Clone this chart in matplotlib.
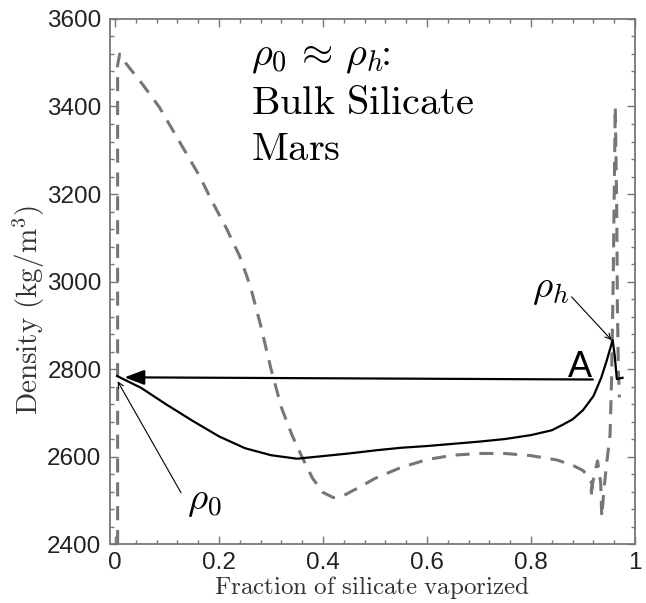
import matplotlib
matplotlib.use("Agg")
import matplotlib.pyplot as plt
from matplotlib.ticker import MultipleLocator

plt.rcParams["mathtext.fontset"] = "cm"

# density of the mixture vs vaporized fraction (solid) and the second branch (dashed)
frac_solid = [0.004, 0.05, 0.1, 0.15, 0.2, 0.25, 0.3, 0.35, 0.4, 0.45, 0.5,
              0.55, 0.6, 0.65, 0.7, 0.75, 0.8, 0.84, 0.86, 0.88, 0.9, 0.92,
              0.935, 0.945, 0.957, 0.961, 0.965, 0.976]
rho_solid = [2784, 2757, 2718, 2681, 2646, 2619, 2603, 2595, 2601, 2607, 2614,
             2620, 2624, 2629, 2634, 2640, 2649, 2660, 2672, 2685, 2706, 2738,
             2780, 2817, 2866, 2830, 2777, 2780]

frac_dashed = [0.005, 0.005, 0.009, 0.02, 0.054, 0.086, 0.111, 0.137, 0.163,
               0.188, 0.214, 0.24, 0.26, 0.28, 0.30, 0.32, 0.34, 0.36, 0.38,
               0.40, 0.42, 0.44, 0.47, 0.50, 0.55, 0.60, 0.65, 0.70, 0.75,
               0.80, 0.85, 0.88, 0.90, 0.912, 0.918, 0.916, 0.913, 0.922,
               0.928, 0.934, 0.936, 0.94, 0.945, 0.952, 0.955, 0.958, 0.960,
               0.962, 0.965, 0.966, 0.968, 0.970]
rho_dashed = [2400, 3495, 3520, 3500, 3449, 3397, 3346, 3293, 3240,
              3180, 3122, 3057, 2990, 2900, 2800, 2712, 2650, 2598, 2550,
              2518, 2506, 2511, 2530, 2550, 2575, 2593, 2603, 2607, 2607,
              2602, 2592, 2580, 2568, 2552, 2535, 2515, 2506, 2560,
              2590, 2540, 2462, 2520, 2580, 2650, 2780, 3000, 3200,
              3400, 3150, 2950, 2800, 2735]

# reference points
rho_0 = (0.005, 2772)
rho_h = (0.955, 2866)
arrow_start = (0.919, 2776)
arrow_end = (0.018, 2781)

xticks = [0, 0.2, 0.4, 0.6, 0.8, 1]
xtick_labels = ["0", "0.2", "0.4", "0.6", "0.8", "1"]
yticks = [2400, 2600, 2800, 3000, 3200, 3400, 3600]

fig = plt.figure(figsize=(6.46, 6.03), dpi=100)
ax = fig.add_axes([0.170, 0.0978, 0.813, 0.8707])

gray = "#767676"
ax.plot(frac_dashed, rho_dashed, color=gray, lw=2.2, dashes=(4.6, 3.2))
ax.plot(frac_solid, rho_solid, color="black", lw=1.6)

# horizontal arrow A
ax.annotate("", xy=arrow_end, xytext=arrow_start,
            arrowprops=dict(arrowstyle="-|>,head_length=0.8,head_width=0.3",
                            mutation_scale=15, lw=1.6, color="black",
                            shrinkA=0, shrinkB=0))
ax.text(0.871, 2782, "A", fontsize=26, family="Liberation Sans",
        ha="left", va="baseline")

# labels for the two densities
ax.annotate("", xy=rho_0, xytext=(0.127, 2517),
            arrowprops=dict(arrowstyle="->", lw=0.8, color="black",
                            shrinkA=0, shrinkB=0))
ax.text(0.171, 2500, r"$\rho_0$", fontsize=28, ha="center", va="center")
ax.annotate("", xy=rho_h, xytext=(0.878, 2965),
            arrowprops=dict(arrowstyle="->", lw=0.8, color="black",
                            shrinkA=0, shrinkB=0))
ax.text(0.838, 2985, r"$\rho_h$", fontsize=28, ha="center", va="center")

# title block
ax.text(0.262, 3515, r"$\rho_0\,\approx\,\rho_h\!\!:$", fontsize=29,
        va="center")
ax.text(0.262, 3409, r"$\mathrm{Bulk\ Silicate}$", fontsize=29, va="center")
ax.text(0.262, 3302, r"$\mathrm{Mars}$", fontsize=29, va="center")

ax.set_xlim(-0.01, 1.0)
ax.set_ylim(2400, 3600)
ax.set_xticks(xticks)
ax.set_xticklabels(xtick_labels)
ax.set_yticks(yticks)
ax.xaxis.set_minor_locator(MultipleLocator(0.04))
ax.yaxis.set_minor_locator(MultipleLocator(40))

ax.tick_params(which="both", direction="in", top=True, right=True,
               color=gray, labelsize=17.5, labelcolor="#222222", pad=6)
ax.tick_params(which="major", length=6, width=1)
ax.tick_params(which="minor", length=3, width=1)
for lab in ax.get_xticklabels() + ax.get_yticklabels():
    lab.set_family("Liberation Sans")
for sp in ax.spines.values():
    sp.set_color(gray)
    sp.set_linewidth(1.3)

ax.set_xlabel(r"$\mathrm{Fraction\ of\ silicate\ vaporized}$", fontsize=18,
              color="#333333", labelpad=0)
ax.set_ylabel(r"$\mathrm{Density\ (kg/m^3)}$", fontsize=21,
              color="#333333", labelpad=0)
ax.yaxis.label.set_y(0.446)

fig.savefig("out.png", dpi=100)
